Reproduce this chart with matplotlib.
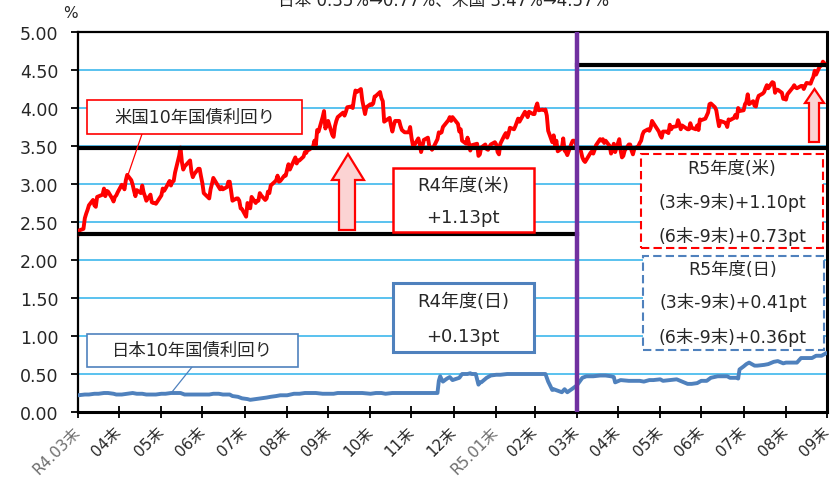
import matplotlib
matplotlib.use('Agg')
import matplotlib.pyplot as plt
import pandas as pd
from matplotlib.patches import Rectangle, Polygon
from matplotlib.lines import Line2D

plt.rcParams['font.family'] = ['DejaVu Sans', 'Noto Sans CJK JP']

# ---------------- data ----------------
title_text = "日本 0.35%→0.77%、米国 3.47%→4.57%"

us_dates = [
    '2022-03-31', '2022-04-01', '2022-04-04', '2022-04-05', '2022-04-06', '2022-04-07', '2022-04-08',
    '2022-04-11', '2022-04-12', '2022-04-13', '2022-04-14', '2022-04-18', '2022-04-19', '2022-04-20',
    '2022-04-21', '2022-04-22', '2022-04-25', '2022-04-26', '2022-04-27', '2022-04-28', '2022-04-29',
    '2022-05-02', '2022-05-03', '2022-05-04', '2022-05-05', '2022-05-06', '2022-05-09', '2022-05-10',
    '2022-05-11', '2022-05-12', '2022-05-13', '2022-05-16', '2022-05-17', '2022-05-18', '2022-05-19',
    '2022-05-20', '2022-05-23', '2022-05-24', '2022-05-25', '2022-05-26', '2022-05-27', '2022-05-31',
    '2022-06-01', '2022-06-02', '2022-06-03', '2022-06-06', '2022-06-07', '2022-06-08', '2022-06-09',
    '2022-06-10', '2022-06-13', '2022-06-14', '2022-06-15', '2022-06-16', '2022-06-17', '2022-06-21',
    '2022-06-22', '2022-06-23', '2022-06-24', '2022-06-27', '2022-06-28', '2022-06-29', '2022-06-30',
    '2022-07-01', '2022-07-05', '2022-07-06', '2022-07-07', '2022-07-08', '2022-07-11', '2022-07-12',
    '2022-07-13', '2022-07-14', '2022-07-15', '2022-07-18', '2022-07-19', '2022-07-20', '2022-07-21',
    '2022-07-22', '2022-07-25', '2022-07-26', '2022-07-27', '2022-07-28', '2022-07-29',
    '2022-08-01', '2022-08-02', '2022-08-03', '2022-08-04', '2022-08-05', '2022-08-08', '2022-08-09',
    '2022-08-10', '2022-08-11', '2022-08-12', '2022-08-15', '2022-08-16', '2022-08-17', '2022-08-18',
    '2022-08-19', '2022-08-22', '2022-08-23', '2022-08-24', '2022-08-25', '2022-08-26', '2022-08-29',
    '2022-08-30', '2022-08-31',
    '2022-09-01', '2022-09-02', '2022-09-06', '2022-09-07', '2022-09-08', '2022-09-09', '2022-09-12',
    '2022-09-13', '2022-09-14', '2022-09-15', '2022-09-16', '2022-09-19', '2022-09-20', '2022-09-21',
    '2022-09-22', '2022-09-23', '2022-09-26', '2022-09-27', '2022-09-28', '2022-09-29', '2022-09-30',
    '2022-10-03', '2022-10-04', '2022-10-05', '2022-10-06', '2022-10-07', '2022-10-11', '2022-10-12',
    '2022-10-13', '2022-10-14', '2022-10-17', '2022-10-18', '2022-10-19', '2022-10-20', '2022-10-21',
    '2022-10-24', '2022-10-25', '2022-10-26', '2022-10-27', '2022-10-28', '2022-10-31',
    '2022-11-01', '2022-11-02', '2022-11-03', '2022-11-04', '2022-11-07', '2022-11-08', '2022-11-09',
    '2022-11-10', '2022-11-14', '2022-11-15', '2022-11-16', '2022-11-17', '2022-11-18', '2022-11-21',
    '2022-11-22', '2022-11-23', '2022-11-25', '2022-11-28', '2022-11-29', '2022-11-30',
    '2022-12-01', '2022-12-02', '2022-12-05', '2022-12-06', '2022-12-07', '2022-12-08', '2022-12-09',
    '2022-12-12', '2022-12-13', '2022-12-14', '2022-12-15', '2022-12-16', '2022-12-19', '2022-12-20',
    '2022-12-21', '2022-12-22', '2022-12-23', '2022-12-27', '2022-12-28', '2022-12-29', '2022-12-30',
    '2023-01-03', '2023-01-04', '2023-01-05', '2023-01-06', '2023-01-09', '2023-01-10', '2023-01-11',
    '2023-01-12', '2023-01-13', '2023-01-17', '2023-01-18', '2023-01-19', '2023-01-20', '2023-01-23',
    '2023-01-24', '2023-01-25', '2023-01-26', '2023-01-27', '2023-01-30', '2023-01-31',
    '2023-02-01', '2023-02-02', '2023-02-03', '2023-02-06', '2023-02-07', '2023-02-08', '2023-02-09',
    '2023-02-10', '2023-02-13', '2023-02-14', '2023-02-15', '2023-02-16', '2023-02-17', '2023-02-21',
    '2023-02-22', '2023-02-23', '2023-02-24', '2023-02-27', '2023-02-28',
    '2023-03-01', '2023-03-02', '2023-03-03', '2023-03-06', '2023-03-07', '2023-03-08', '2023-03-09',
    '2023-03-10', '2023-03-13', '2023-03-14', '2023-03-15', '2023-03-16', '2023-03-17', '2023-03-20',
    '2023-03-21', '2023-03-22', '2023-03-23', '2023-03-24', '2023-03-27', '2023-03-28', '2023-03-29',
    '2023-03-30', '2023-03-31',
    '2023-04-03', '2023-04-04', '2023-04-05', '2023-04-06', '2023-04-10', '2023-04-11', '2023-04-12',
    '2023-04-13', '2023-04-14', '2023-04-17', '2023-04-18', '2023-04-19', '2023-04-20', '2023-04-21',
    '2023-04-24', '2023-04-25', '2023-04-26', '2023-04-27', '2023-04-28',
    '2023-05-01', '2023-05-02', '2023-05-03', '2023-05-04', '2023-05-05', '2023-05-08', '2023-05-09',
    '2023-05-10', '2023-05-11', '2023-05-12', '2023-05-15', '2023-05-16', '2023-05-17', '2023-05-18',
    '2023-05-19', '2023-05-22', '2023-05-23', '2023-05-24', '2023-05-25', '2023-05-26', '2023-05-30',
    '2023-05-31',
    '2023-06-01', '2023-06-02', '2023-06-05', '2023-06-06', '2023-06-07', '2023-06-08', '2023-06-09',
    '2023-06-12', '2023-06-13', '2023-06-14', '2023-06-15', '2023-06-16', '2023-06-20', '2023-06-21',
    '2023-06-22', '2023-06-23', '2023-06-26', '2023-06-27', '2023-06-28', '2023-06-29', '2023-06-30',
    '2023-07-03', '2023-07-05', '2023-07-06', '2023-07-07', '2023-07-10', '2023-07-11', '2023-07-12',
    '2023-07-13', '2023-07-14', '2023-07-17', '2023-07-18', '2023-07-19', '2023-07-20', '2023-07-21',
    '2023-07-24', '2023-07-25', '2023-07-26', '2023-07-27', '2023-07-28', '2023-07-31',
    '2023-08-01', '2023-08-02', '2023-08-03', '2023-08-04', '2023-08-07', '2023-08-08', '2023-08-09',
    '2023-08-10', '2023-08-11', '2023-08-14', '2023-08-15', '2023-08-16', '2023-08-17', '2023-08-18',
    '2023-08-21', '2023-08-22', '2023-08-23', '2023-08-24', '2023-08-25', '2023-08-28', '2023-08-29',
    '2023-08-30', '2023-08-31',
    '2023-09-01', '2023-09-05', '2023-09-06', '2023-09-07', '2023-09-08', '2023-09-11', '2023-09-12',
    '2023-09-13', '2023-09-14', '2023-09-15', '2023-09-18', '2023-09-19', '2023-09-20', '2023-09-21',
    '2023-09-22', '2023-09-25', '2023-09-26', '2023-09-27', '2023-09-28', '2023-09-29',
]
us_values = [
    2.34, 2.39, 2.41, 2.55, 2.61, 2.66, 2.72,
    2.79, 2.72, 2.70, 2.83, 2.86, 2.94, 2.84,
    2.91, 2.90, 2.81, 2.77, 2.83, 2.85, 2.89,
    2.99, 2.97, 2.93, 3.05, 3.12, 3.05, 2.99,
    2.91, 2.84, 2.92, 2.88, 2.98, 2.89, 2.84,
    2.78, 2.86, 2.76, 2.75, 2.75, 2.74, 2.85,
    2.94, 2.91, 2.94, 3.04, 2.98, 3.03, 3.04,
    3.15, 3.37, 3.48, 3.29, 3.19, 3.23, 3.31,
    3.16, 3.09, 3.13, 3.20, 3.20, 3.10, 3.01,
    2.88, 2.81, 2.93, 3.00, 3.08, 2.99, 2.96,
    2.93, 2.96, 2.93, 2.96, 3.03, 3.03, 2.91,
    2.78, 2.81, 2.81, 2.78, 2.68, 2.67,
    2.57, 2.75, 2.73, 2.68, 2.83, 2.75, 2.78,
    2.78, 2.88, 2.85, 2.79, 2.81, 2.90, 2.88,
    2.98, 3.03, 3.05, 3.11, 3.03, 3.04, 3.11,
    3.11, 3.19,
    3.26, 3.19, 3.35, 3.27, 3.31, 3.31, 3.36,
    3.42, 3.41, 3.45, 3.45, 3.49, 3.57, 3.51,
    3.71, 3.69, 3.88, 3.96, 3.73, 3.79, 3.83,
    3.65, 3.62, 3.76, 3.83, 3.88, 3.94, 3.90,
    3.95, 4.01, 4.02, 4.00, 4.13, 4.23, 4.21,
    4.25, 4.10, 4.01, 3.92, 4.01, 4.05,
    4.04, 4.06, 4.15, 4.16, 4.21, 4.13, 4.09,
    3.82, 3.87, 3.77, 3.69, 3.77, 3.83, 3.83,
    3.76, 3.71, 3.68, 3.68, 3.75, 3.61,
    3.51, 3.51, 3.60, 3.53, 3.42, 3.49, 3.58,
    3.61, 3.50, 3.48, 3.45, 3.48, 3.59, 3.68,
    3.67, 3.68, 3.75, 3.84, 3.88, 3.83, 3.88,
    3.79, 3.69, 3.72, 3.57, 3.53, 3.61, 3.54,
    3.44, 3.51, 3.53, 3.37, 3.39, 3.48, 3.52,
    3.46, 3.45, 3.49, 3.52, 3.55, 3.52,
    3.42, 3.39, 3.53, 3.64, 3.67, 3.61, 3.66,
    3.74, 3.72, 3.76, 3.81, 3.86, 3.82, 3.95,
    3.92, 3.88, 3.95, 3.92, 3.92,
    4.01, 4.06, 3.97, 3.98, 3.97, 3.98, 3.90,
    3.70, 3.55, 3.64, 3.51, 3.57, 3.43, 3.47,
    3.60, 3.44, 3.42, 3.38, 3.53, 3.57, 3.57,
    3.55, 3.47,
    3.43, 3.35, 3.31, 3.29, 3.41, 3.43, 3.40,
    3.45, 3.51, 3.59, 3.57, 3.59, 3.54, 3.57,
    3.50, 3.40, 3.45, 3.53, 3.42,
    3.59, 3.44, 3.35, 3.37, 3.44, 3.52, 3.52,
    3.44, 3.39, 3.46, 3.50, 3.54, 3.57, 3.65,
    3.69, 3.72, 3.70, 3.74, 3.83, 3.80, 3.69,
    3.64,
    3.61, 3.69, 3.69, 3.67, 3.78, 3.72, 3.75,
    3.76, 3.84, 3.79, 3.72, 3.77, 3.72, 3.72,
    3.80, 3.74, 3.72, 3.77, 3.71, 3.85, 3.84,
    3.86, 3.94, 4.05, 4.06, 4.01, 3.97, 3.86,
    3.76, 3.83, 3.81, 3.80, 3.75, 3.85, 3.84,
    3.87, 3.91, 3.87, 4.00, 3.96, 3.97,
    4.05, 4.08, 4.18, 4.05, 4.09, 4.03, 4.02,
    4.11, 4.16, 4.19, 4.21, 4.26, 4.30, 4.26,
    4.34, 4.33, 4.20, 4.24, 4.24, 4.20, 4.12,
    4.12, 4.11,
    4.18, 4.27, 4.30, 4.27, 4.26, 4.29, 4.29,
    4.25, 4.29, 4.33, 4.32, 4.37, 4.41, 4.49,
    4.44, 4.56, 4.56, 4.61, 4.59, 4.57,
]

jp_dates = [
    '2022-03-31', '2022-04-05', '2022-04-08', '2022-04-12', '2022-04-15', '2022-04-19', '2022-04-22',
    '2022-04-26', '2022-04-28', '2022-05-02', '2022-05-06', '2022-05-10', '2022-05-13', '2022-05-17',
    '2022-05-20', '2022-05-24', '2022-05-27', '2022-05-31', '2022-06-03', '2022-06-07', '2022-06-10',
    '2022-06-14', '2022-06-17', '2022-06-21', '2022-06-24', '2022-06-28', '2022-06-30', '2022-07-05',
    '2022-07-08', '2022-07-12', '2022-07-15', '2022-07-20', '2022-07-22', '2022-07-26', '2022-07-29',
    '2022-08-02', '2022-08-04', '2022-08-08', '2022-08-12', '2022-08-16', '2022-08-19', '2022-08-23',
    '2022-08-26', '2022-08-31', '2022-09-05', '2022-09-09', '2022-09-13', '2022-09-16', '2022-09-21',
    '2022-09-26', '2022-09-30', '2022-10-04', '2022-10-07', '2022-10-12', '2022-10-17', '2022-10-21',
    '2022-10-25', '2022-10-31', '2022-11-04', '2022-11-08', '2022-11-11', '2022-11-16', '2022-11-22',
    '2022-11-25', '2022-11-30', '2022-12-05', '2022-12-09', '2022-12-13', '2022-12-16', '2022-12-19',
    '2022-12-20', '2022-12-21', '2022-12-22', '2022-12-23', '2022-12-26', '2022-12-28', '2022-12-30',
    '2023-01-04', '2023-01-06', '2023-01-10', '2023-01-12', '2023-01-13', '2023-01-16', '2023-01-18',
    '2023-01-19', '2023-01-20', '2023-01-24', '2023-01-27', '2023-01-31', '2023-02-03', '2023-02-08',
    '2023-02-14', '2023-02-17', '2023-02-22', '2023-02-28', '2023-03-03', '2023-03-08', '2023-03-10',
    '2023-03-13', '2023-03-14', '2023-03-17', '2023-03-20', '2023-03-22', '2023-03-24', '2023-03-28',
    '2023-03-31', '2023-04-04', '2023-04-07', '2023-04-12', '2023-04-17', '2023-04-21', '2023-04-25',
    '2023-04-27', '2023-04-28', '2023-05-02', '2023-05-08', '2023-05-12', '2023-05-16', '2023-05-19',
    '2023-05-23', '2023-05-26', '2023-05-31', '2023-06-02', '2023-06-07', '2023-06-12', '2023-06-16',
    '2023-06-20', '2023-06-23', '2023-06-27', '2023-06-30', '2023-07-04', '2023-07-07', '2023-07-12',
    '2023-07-14', '2023-07-19', '2023-07-21', '2023-07-26', '2023-07-27', '2023-07-28', '2023-07-31',
    '2023-08-02', '2023-08-04', '2023-08-08', '2023-08-10', '2023-08-15', '2023-08-18', '2023-08-22',
    '2023-08-25', '2023-08-29', '2023-08-31', '2023-09-05', '2023-09-08', '2023-09-11', '2023-09-14',
    '2023-09-19', '2023-09-22', '2023-09-26', '2023-09-28', '2023-09-29',
]
jp_values = [
    0.22, 0.23, 0.23, 0.24, 0.24, 0.25, 0.25,
    0.24, 0.23, 0.23, 0.24, 0.25, 0.24, 0.24,
    0.23, 0.23, 0.23, 0.24, 0.24, 0.25, 0.25,
    0.25, 0.23, 0.23, 0.23, 0.23, 0.23, 0.23,
    0.24, 0.24, 0.23, 0.23, 0.21, 0.20, 0.18,
    0.17, 0.16, 0.17, 0.18, 0.19, 0.20, 0.21,
    0.22, 0.22, 0.24, 0.24, 0.25, 0.25, 0.25,
    0.24, 0.24, 0.24, 0.25, 0.25, 0.25, 0.25,
    0.25, 0.24, 0.25, 0.25, 0.24, 0.25, 0.25,
    0.25, 0.25, 0.25, 0.25, 0.25, 0.25, 0.25,
    0.41, 0.47, 0.43, 0.40, 0.44, 0.46, 0.42,
    0.45, 0.50, 0.50, 0.51, 0.50, 0.50, 0.36,
    0.39, 0.39, 0.45, 0.48, 0.49, 0.49, 0.50,
    0.50, 0.50, 0.50, 0.50, 0.50, 0.50, 0.40,
    0.29, 0.30, 0.28, 0.26, 0.30, 0.26, 0.31,
    0.35, 0.45, 0.47, 0.47, 0.48, 0.48, 0.47,
    0.46, 0.39, 0.42, 0.41, 0.41, 0.41, 0.40,
    0.42, 0.42, 0.43, 0.41, 0.42, 0.43, 0.40,
    0.37, 0.37, 0.38, 0.41, 0.41, 0.45, 0.47,
    0.47, 0.47, 0.45, 0.45, 0.44, 0.56, 0.60,
    0.63, 0.65, 0.61, 0.61, 0.62, 0.63, 0.66,
    0.67, 0.64, 0.65, 0.65, 0.65, 0.71, 0.71,
    0.71, 0.74, 0.74, 0.76, 0.77,
]

tick_dates = ['2022-03-31', '2022-04-30', '2022-05-31', '2022-06-30', '2022-07-31', '2022-08-31',
              '2022-09-30', '2022-10-31', '2022-11-30', '2022-12-31', '2023-01-31', '2023-02-28',
              '2023-03-31', '2023-04-30', '2023-05-31', '2023-06-30', '2023-07-31', '2023-08-31',
              '2023-09-30']
tick_labels = ['R4.03末', '04末', '05末', '06末', '07末', '08末', '09末', '10末', '11末', '12末',
               'R5.01末', '02末', '03末', '04末', '05末', '06末', '07末', '08末', '09末']
y_ticks = [0.0, 0.5, 1.0, 1.5, 2.0, 2.5, 3.0, 3.5, 4.0, 4.5, 5.0]

us_label = '米国10年国債利回り'
jp_label = '日本10年国債利回り'
r4_us_lines = ['R4年度(米)', '+1.13pt']
r4_jp_lines = ['R4年度(日)', '+0.13pt']
r5_us_lines = ['R5年度(米)', '(3末-9末)+1.10pt', '(6末-9末)+0.73pt']
r5_jp_lines = ['R5年度(日)', '(3末-9末)+0.41pt', '(6末-9末)+0.36pt']

# ---------------- figure ----------------
W, H = 834, 485
fig = plt.figure(figsize=(W / 100, H / 100), dpi=100)


def fx(px):
    return px / W


def fy(py):
    return 1 - py / H


ax = fig.add_axes([fx(78), fy(413), fx(827) - fx(78), fy(33) - fy(413)])

RED = '#FF0000'
BLUE = '#4F81BD'
PURPLE = '#7030A0'
GRID = '#3DB8EC'
TXT = '#262626'

us_x = pd.to_datetime(us_dates)
jp_x = pd.to_datetime(jp_dates)
ticks_x = pd.to_datetime(tick_dates)
start, mid, end = ticks_x[0], ticks_x[12], ticks_x[-1]

us_series = pd.Series(us_values, index=us_x)
us_start = us_series.iloc[0]
us_mid = us_series.loc[pd.Timestamp('2023-03-31')]
us_end = us_series.iloc[-1]

ax.set_xlim(start, end)
ax.set_ylim(0, 5)

for v in y_ticks[1:-1]:
    ax.axhline(v, color=GRID, lw=1.2, zorder=1)

ax.plot(jp_x, jp_values, color=BLUE, lw=2.8, zorder=3, solid_joinstyle='round')
ax.plot(us_x, us_values, color=RED, lw=2.8, zorder=3, solid_joinstyle='round')

ax.plot([start, mid], [us_start, us_start], color='black', lw=3, zorder=4)
ax.plot([start, end], [us_mid, us_mid], color='black', lw=3, zorder=4)
ax.plot([mid, end], [us_end, us_end], color='black', lw=3, zorder=4)
ax.axvline(mid, color=PURPLE, lw=3.2, zorder=5)

ax.set_yticks(y_ticks)
ax.set_yticklabels([f'{v:.2f}' for v in y_ticks], fontsize=12.5, color=TXT)
ax.set_xticks(ticks_x)
ax.set_xticklabels(tick_labels, rotation=45, ha='right', va='center', rotation_mode='anchor', fontsize=11)
for lbl in ax.get_xticklabels():
    lbl.set_color('#6E6E6E' if lbl.get_text().startswith('R') else TXT)
ax.tick_params(axis='y', direction='out', length=5, width=1.3, color='black', pad=9)
ax.tick_params(axis='x', direction='inout', length=8, width=1.3, color='black', pad=8)

for side, lw in [('left', 1.6), ('bottom', 2.2), ('top', 1.6), ('right', 2.2)]:
    ax.spines[side].set_linewidth(lw)
    ax.spines[side].set_color('black')

fig.text(fx(70), fy(13), '%', ha='center', va='center', fontsize=11, color=TXT)
fig.text(fx(444), fy(1), title_text, ha='center', va='center', fontsize=12, color=TXT)


def add_box(x0, y0, x1, y1, ec, ls='-', lw=1.6):
    r = Rectangle((fx(x0), fy(y1)), fx(x1) - fx(x0), fy(y0) - fy(y1), transform=fig.transFigure,
                  facecolor='white', edgecolor=ec, lw=lw, ls=ls, zorder=10)
    fig.add_artist(r)


def add_lines(xc, ys, lines, size=12.5):
    for yy, s in zip(ys, lines):
        fig.text(fx(xc), fy(yy), s, ha='center', va='center', fontsize=size, color=TXT, zorder=11)


def add_arrow(xl, xr, sl, sr, tip_y, head_y, bottom_y):
    xc = (xl + xr) / 2
    pts = [(xc, tip_y), (xr, head_y), (sr, head_y), (sr, bottom_y), (sl, bottom_y), (sl, head_y), (xl, head_y)]
    poly = Polygon([(fx(a), fy(b)) for a, b in pts], closed=True, transform=fig.transFigure,
                   facecolor='#FBD3D3', edgecolor=RED, lw=1.6, zorder=10)
    fig.add_artist(poly)


# leader lines
fig.add_artist(Line2D([fx(142), fx(128)], [fy(135), fy(176)], color=RED, lw=0.9, transform=fig.transFigure, zorder=9))
fig.add_artist(Line2D([fx(192), fx(172)], [fy(368), fy(393)], color=BLUE, lw=0.9, transform=fig.transFigure, zorder=9))

# label boxes
add_box(87, 101, 302, 135, RED, lw=1.2)
add_lines(195, [118], [us_label])
add_box(87, 335, 298, 368, BLUE, lw=1.2)
add_lines(192, [351], [jp_label])

# R4 boxes
add_box(393, 169, 534, 233, RED, lw=1.8)
add_lines(463, [186, 218], r4_us_lines, size=13)
add_box(393, 284, 534, 353, BLUE, lw=2.2)
add_lines(463, [302, 337], r4_jp_lines, size=13)

# R5 dashed boxes
add_box(641, 155, 823, 249, RED, ls=(0, (4, 2)), lw=1.5)
add_lines(732, [169, 202, 236], r5_us_lines, size=12.5)
add_box(643, 257, 824, 351, BLUE, ls=(0, (4, 2)), lw=1.5)
add_lines(733, [270, 303, 338], r5_jp_lines, size=12.5)

# arrows
add_arrow(332, 364, 339, 355, 155, 181, 231)
add_arrow(805, 824, 809, 819, 90, 104, 143)

fig.savefig('out.png', dpi=100)
